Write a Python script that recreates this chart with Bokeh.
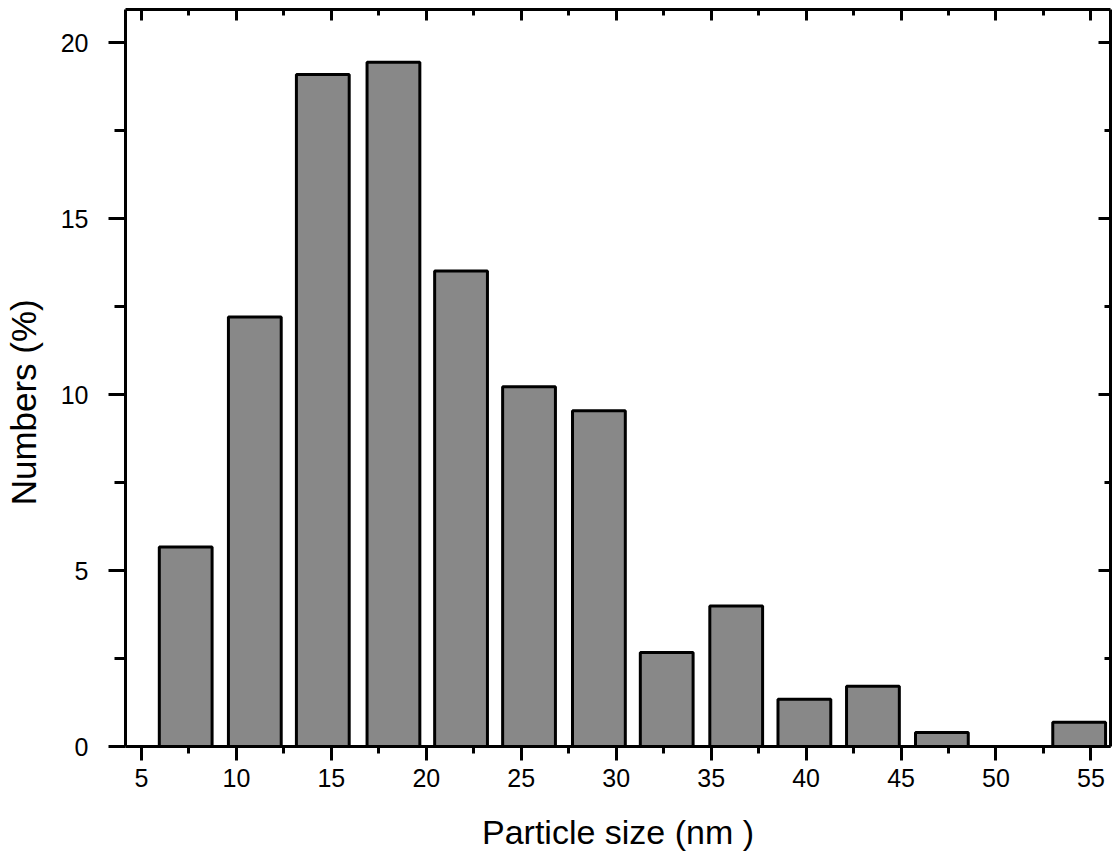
from bokeh.plotting import figure
from bokeh.models import Range1d, LinearAxis, FixedTicker
from bokeh.embed import file_html
from bokeh.resources import INLINE

# Data
bin_centers = [7.33, 10.97, 14.55, 18.27, 21.83, 25.41, 29.09, 32.66, 36.32, 39.91, 43.52, 47.15, 50.75, 54.38]
percentages = [5.67, 12.2, 19.09, 19.44, 13.51, 10.22, 9.54, 2.67, 3.99, 1.34, 1.71, 0.40, 0.0, 0.69]
x_major = [5, 10, 15, 20, 25, 30, 35, 40, 45, 50, 55]
x_minor = [7.5, 12.5, 17.5, 22.5, 27.5, 32.5, 37.5, 42.5, 47.5, 52.5]
y_major = [0, 5, 10, 15, 20]
y_minor = [2.5, 7.5, 12.5, 17.5]
x_title = "Particle size (nm )"
y_title = "Numbers (%)"

FONT = "Liberation Sans"

X0, X1 = 4.16, 56.03
p = figure(width=1112, height=853, output_backend="svg", toolbar_location=None,
           x_range=Range1d(X0, X1), y_range=Range1d(0, 20.94),
           min_border_left=123, min_border_right=2, min_border_top=9, min_border_bottom=105)
p.grid.visible = False
p.outline_line_color = None
p.background_fill_color = "white"
p.border_fill_color = "white"

p.vbar(x=bin_centers, top=percentages, bottom=0, width=2.78,
       fill_color="#888888", line_color="black", line_width=3)

xt = FixedTicker(ticks=x_major, minor_ticks=x_minor)
yt = FixedTicker(ticks=y_major, minor_ticks=y_minor)

xa = p.xaxis[0]
xa.ticker = xt
xa.axis_label = x_title
xa.axis_line_width = 3
xa.major_tick_line_width = 3
xa.minor_tick_line_width = 3
xa.major_tick_out = 14
xa.major_tick_in = 0
xa.minor_tick_out = 7
xa.minor_tick_in = 0
xa.major_label_standoff = 8
xa.axis_label_standoff = 23
xa.major_label_text_font = FONT
xa.major_label_text_font_size = "25px"
xa.major_label_text_color = "black"
xa.axis_label_text_font = FONT
xa.axis_label_text_font_size = "34px"
xa.axis_label_text_font_style = "normal"
xa.axis_label_text_color = "black"

ya = p.yaxis[0]
ya.ticker = yt
# trailing no-break spaces push the rotated title slightly below the frame centre, as in the reference
ya.axis_label = y_title + "\u00a0" * 5
ya.axis_line_width = 3
ya.major_tick_line_width = 3
ya.minor_tick_line_width = 3
ya.major_tick_out = 17
ya.major_tick_in = 0
ya.minor_tick_out = 11
ya.minor_tick_in = 0
ya.major_label_standoff = 20
ya.axis_label_standoff = 15
ya.major_label_text_font = FONT
ya.major_label_text_font_size = "25px"
ya.major_label_text_color = "black"
ya.axis_label_text_font = FONT
ya.axis_label_text_font_size = "35px"
ya.axis_label_text_font_style = "normal"
ya.axis_label_text_color = "black"

top = LinearAxis(ticker=FixedTicker(ticks=x_major, minor_ticks=x_minor),
                 major_label_text_font_size="0px", axis_line_width=3,
                 major_tick_line_width=3, minor_tick_line_width=3,
                 major_label_standoff=0,
                 major_tick_in=11, major_tick_out=0, minor_tick_in=6, minor_tick_out=0)
top.major_label_text_alpha = 0
p.add_layout(top, "above")

right = LinearAxis(ticker=FixedTicker(ticks=y_major, minor_ticks=y_minor),
                   major_label_text_font_size="0px", axis_line_width=3,
                   major_tick_line_width=3, minor_tick_line_width=3,
                   major_label_standoff=0,
                   major_tick_in=12, major_tick_out=0, minor_tick_in=6, minor_tick_out=0)
right.major_label_text_alpha = 0
p.add_layout(right, "right")

open("out.html", "w").write(file_html(p, INLINE))
